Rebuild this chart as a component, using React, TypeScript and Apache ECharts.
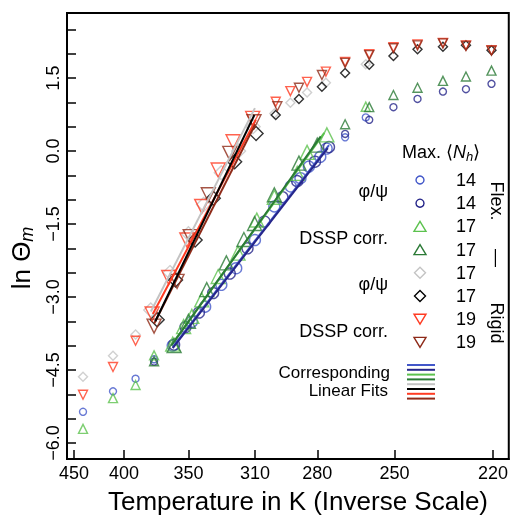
import React, { useEffect, useRef } from "react";
import * as echarts from "echarts";

// ---------- data (temperature in K, ln Θm) ----------
const tempTicks = [450, 400, 350, 310, 280, 250, 220];
const yLabelTicks = [-6, -4.5, -3, -1.5, 0, 1.5];
const yTicks = [-6, -5.5, -5, -4.5, -4, -3.5, -3, -2.5, -2, -1.5, -1, -0.5, 0, 0.5, 1, 1.5, 2, 2.5];

// φ/ψ, Nh 14 (blue circles)
const phiPsi14Small = [[440, -5.36], [410, -4.94], [390, -4.68], [375, -4.28], [268.4, 0.28], [260.4, 0.69]];
const phiPsi14Fit = [[361, -4.0], [347.7, -3.51], [339, -3.2], [329, -2.75], [320.3, -2.41], [310, -1.83], [300, -1.14], [292, -0.73], [287.5, -0.56], [283.7, -0.32], [278.7, -0.12], [276, 0.05]];
// DSSP corr., Nh 14 (navy circles)
const dssp14Small = [[375, -4.33], [268.4, 0.35], [259.1, 0.64], [250.4, 0.9], [242.3, 1.07], [234.3, 1.22], [227.5, 1.27], [220.4, 1.38]];
const dssp14Fit = [[360, -3.98], [352, -3.62], [343, -3.32], [334, -2.92], [324, -2.52], [314, -2.0], [305, -1.45], [296, -0.95], [289, -0.62], [281, -0.22], [275, 0.08]];
// φ/ψ, Nh 17 flex (light green triangles)
const phiPsi17fSmall = [[440, -5.71], [410, -5.08], [390, -4.81], [375, -4.2], [260.4, 0.91]];
const phiPsi17fFit = [[361, -3.97], [353.3, -3.61], [347.7, -3.4], [341.2, -3.06], [330.9, -2.58], [319.3, -2.1], [309, -1.42], [300, -0.95], [289, -0.46], [284.5, -0.03], [275.9, 0.33]];
// DSSP corr., Nh 17 flex (dark green triangles)
const dssp17fSmall = [[375, -4.32], [268.4, 0.55], [259.1, 0.9], [250.4, 1.15], [242.3, 1.3], [234.3, 1.44], [227.5, 1.53], [220.4, 1.65]];
const dssp17fFit = [[360, -4.0], [350, -3.5], [338, -2.85], [326, -2.3], [316, -1.82], [310.2, -1.49], [300, -0.9], [288.2, -0.25], [280, 0.12]];
// φ/ψ, Nh 17 rigid (gray diamonds)
const phiPsi17rSmall = [[440, -4.64], [410, -4.21], [390, -3.77], [300, 0.77], [292.2, 0.99], [284.5, 1.2], [276.3, 1.4], [260.4, 1.78]];
const phiPsi17rFit = [[377.6, -3.27], [363, -2.5], [350, -1.7], [340, -1.1], [329, -0.45], [319, 0.0], [311, 0.5]];
// DSSP corr., Nh 17 rigid (black diamonds)
const dssp17rSmall = [[299.3, 0.74], [288.2, 1.07], [278, 1.32], [268.4, 1.6], [259.1, 1.77], [250.4, 1.95], [242.3, 2.09], [234.3, 2.14], [227.5, 2.17], [220.4, 2.07]];
const dssp17rFit = [[372.6, -3.47], [359, -2.65], [345.5, -1.83], [333.9, -0.97], [321.2, -0.22], [309.4, 0.36]];
// φ/ψ, Nh 19 (red down-triangles)
const phiPsi19Small = [[440, -5.01], [410, -4.44], [390, -3.9], [299.3, 1.01], [292.2, 1.23], [284.5, 1.42], [276.3, 1.63], [268.4, 1.83], [259.1, 1.99], [250.4, 2.13], [242.3, 2.19], [234.3, 2.22], [227.5, 2.17], [220.4, 2.07]];
const phiPsi19Fit = [[376.5, -3.35], [363.9, -2.6], [351.1, -1.83], [341.2, -1.14], [330.9, -0.39], [322.1, 0.19], [311.2, 0.67]];
// DSSP corr., Nh 19 (dark red down-triangles)
const dssp19Small = [[298.5, 0.92], [288.2, 1.3], [278, 1.56], [268.4, 1.81], [259.1, 1.97], [250.4, 2.11], [242.3, 2.17], [234.3, 2.21], [227.5, 2.16], [220.4, 2.06]];
const dssp19Fit = [[375, -3.6], [357.9, -2.68], [348.8, -1.76], [337, -0.9], [324, -0.05], [310.5, 0.6]];

// linear fits: [T1, y1, T2, y2]
const fitBlue = [361, -4.03, 275, 0.12];
const fitNavy = [361, -4.05, 275.5, 0.06];
const fitLightGreen = [362, -3.99, 277, 0.37];
const fitDarkGreen = [362, -4.0, 278.5, 0.3];
const fitGray = [377.5, -3.3, 310, 0.88];
const fitBlack = [374, -3.5, 310.3, 0.74];
const fitRed = [376, -3.35, 309.5, 0.64];
const fitDarkRed = [375, -3.55, 309.8, 0.55];

const legendNh = ["14", "14", "17", "17", "17", "17", "19", "19"];

// ---------- styles ----------
const C = {
  blue: "#4257c9",
  navy: "#26268a",
  lgreen: "#5cc24e",
  dgreen: "#2b7a36",
  gray: "#c4c4c4",
  black: "#000000",
  red: "#ff3b22",
  dred: "#8e2a18",
};
const FONT = "'Liberation Sans', Arial, Helvetica, sans-serif";

const toX = (T: number) => 1000 / T;

export default function App() {
  const ref = useRef<HTMLDivElement>(null);
  useEffect(() => {
    if (!ref.current) return;
    const chart = echarts.init(ref.current, null, { renderer: "svg" });

    const scatter = (pts: number[][], symbol: string, size: number, color: string, rotate = 0, z = 2) => ({
      type: "scatter",
      data: pts.map((p) => [toX(p[0]), p[1]]),
      symbol,
      symbolSize: size,
      symbolRotate: rotate,
      z,
      itemStyle: { color: "rgba(0,0,0,0)", borderColor: color, borderWidth: 1.4 },
      silent: true,
    });
    const fitLine = (f: number[], color: string) => ({
      type: "line",
      data: [[toX(f[0]), f[1]], [toX(f[2]), f[3]]],
      symbol: "none",
      z: 5,
      lineStyle: { color, width: 2 },
      silent: true,
    });

    const series: any[] = [
      scatter(phiPsi14Small, "circle", 7, C.blue),
      scatter(phiPsi14Fit, "circle", 11, C.blue),
      scatter(dssp14Small, "circle", 7, C.navy),
      scatter(dssp14Fit, "circle", 11, C.navy),
      scatter(phiPsi17fSmall, "triangle", 9, C.lgreen),
      scatter(phiPsi17fFit, "triangle", 14, C.lgreen),
      scatter(dssp17fSmall, "triangle", 9, C.dgreen),
      scatter(dssp17fFit, "triangle", 14, C.dgreen),
      scatter(phiPsi17rSmall, "diamond", 9, C.gray),
      scatter(phiPsi17rFit, "diamond", 14, C.gray),
      scatter(dssp17rSmall, "diamond", 9, C.black),
      scatter(dssp17rFit, "diamond", 14, C.black),
      scatter(phiPsi19Small, "triangle", 9, C.red, 180),
      scatter(phiPsi19Fit, "triangle", 14, C.red, 180),
      scatter(dssp19Small, "triangle", 9, C.dred, 180),
      scatter(dssp19Fit, "triangle", 14, C.dred, 180),
      fitLine(fitGray, C.gray),
      fitLine(fitRed, C.red),
      fitLine(fitDarkRed, C.dred),
      fitLine(fitBlack, C.black),
      fitLine(fitLightGreen, C.lgreen),
      fitLine(fitDarkGreen, C.dgreen),
      fitLine(fitBlue, C.blue),
      fitLine(fitNavy, C.navy),
    ];

    // legend graphics
    const legendColors = [C.blue, C.navy, C.lgreen, C.dgreen, C.gray, C.black, C.red, C.dred];
    const g: any[] = [];
    const symX = 420;
    const rowY = (i: number) => 180 + i * 23.2;
    legendColors.forEach((col, i) => {
      const y = rowY(i);
      const style = { fill: "none", stroke: col, lineWidth: 1.4 };
      if (i < 2) g.push({ type: "circle", shape: { cx: symX, cy: y, r: 4 }, style });
      else if (i < 4)
        g.push({ type: "polygon", shape: { points: [[symX, y - 5], [symX + 6, y + 5], [symX - 6, y + 5]] }, style });
      else if (i < 6)
        g.push({ type: "polygon", shape: { points: [[symX, y - 5.5], [symX + 5.5, y], [symX, y + 5.5], [symX - 5.5, y]] }, style });
      else
        g.push({ type: "polygon", shape: { points: [[symX - 6, y - 5], [symX + 6, y - 5], [symX, y + 5]] }, style });
      g.push({
        type: "text",
        x: 466,
        y,
        style: { text: legendNh[i], font: `18px ${FONT}`, fill: "#000", align: "center", verticalAlign: "middle" },
      });
    });
    const sideLabels = [
      ["φ/ψ", 191],
      ["DSSP corr.", 238],
      ["φ/ψ", 284],
      ["DSSP corr.", 331],
    ];
    sideLabels.forEach(([t, y]) =>
      g.push({
        type: "text",
        x: 388,
        y: y as number,
        style: { text: t as string, font: `18px ${FONT}`, fill: "#000", align: "right", verticalAlign: "middle" },
      })
    );
    g.push({
      type: "text",
      x: 441,
      y: 152,
      style: {
        text: "{a|Max. ⟨}{i|N}{s|h}{a|⟩}",
        fill: "#000",
        align: "center",
        verticalAlign: "middle",
        rich: {
          a: { fontFamily: FONT, fontSize: 18, fill: "#000" },
          i: { fontFamily: FONT, fontSize: 18, fontStyle: "italic", fill: "#000" },
          s: { fontFamily: FONT, fontSize: 13, fontStyle: "italic", fill: "#000", padding: [8, 0, 0, 0] },
        },
      },
    });
    [["Flex.", 201], ["—", 258], ["Rigid", 323]].forEach(([t, y]) =>
      g.push({
        type: "text",
        x: 497,
        y: y as number,
        rotation: -Math.PI / 2,
        style: { text: t as string, font: `18px ${FONT}`, fill: "#000", align: "center", verticalAlign: "middle" },
      })
    );
    g.push({
      type: "text",
      x: 390,
      y: 372,
      style: { text: "Corresponding", font: `17px ${FONT}`, lineHeight: 17, fill: "#000", align: "right", verticalAlign: "middle" },
    });
    g.push({
      type: "text",
      x: 388,
      y: 390,
      style: { text: "Linear Fits", font: `17px ${FONT}`, lineHeight: 17, fill: "#000", align: "right", verticalAlign: "middle" },
    });
    legendColors.forEach((col, i) => {
      const y = 365 + i * 4.8;
      g.push({ type: "line", shape: { x1: 407, y1: y, x2: 435, y2: y }, style: { stroke: col, lineWidth: 2 } });
    });
    // axis titles
    g.push({
      type: "text",
      x: 298,
      y: 501,
      style: {
        text: "Temperature in K (Inverse Scale)",
        font: `26px ${FONT}`,
        fill: "#000",
        align: "center",
        verticalAlign: "middle",
      },
    });
    g.push({
      type: "text",
      x: 21,
      y: 258,
      rotation: Math.PI / 2,
      style: {
        text: "{a|ln Θ}{s|m}",
        align: "center",
        verticalAlign: "middle",
        rich: {
          a: { fontFamily: FONT, fontSize: 26, fill: "#000" },
          s: { fontFamily: FONT, fontSize: 18, fontStyle: "italic", fill: "#000", padding: [12, 0, 0, 0] },
        },
      },
    });

    chart.setOption({
      animation: false,
      grid: { left: 67, top: 13, right: -3, bottom: 56, show: true, borderColor: "#000", borderWidth: 2 },
      xAxis: {
        type: "value",
        min: 2.184,
        max: 4.633,
        splitLine: { show: false },
        axisLine: { onZero: false, lineStyle: { color: "#000", width: 2 } },
        axisTick: {
          inside: true,
          length: 9,
          lineStyle: { color: "#000", width: 1.5 },
          customValues: tempTicks.map(toX),
        },
        axisLabel: {
          customValues: tempTicks.map(toX),
          formatter: (v: number) => String(Math.round(1000 / v)),
          color: "#000",
          fontSize: 18,
          fontFamily: FONT,
          margin: 5,
        },
      },
      yAxis: {
        type: "value",
        min: -6.33,
        max: 2.835,
        splitLine: { show: false },
        axisLine: { onZero: false, lineStyle: { color: "#000", width: 2 } },
        axisTick: {
          inside: true,
          length: 9,
          lineStyle: { color: "#000", width: 1.5 },
          customValues: yTicks,
        },
        axisLabel: {
          customValues: yLabelTicks,
          formatter: (v: number) => v.toFixed(1).replace("-", "\u2212"),
          rotate: 90,
          color: "#000",
          fontSize: 18,
          fontFamily: FONT,
          margin: 5,
        },
      },
      graphic: g,
      series,
    });
    return () => chart.dispose();
  }, []);
  return <div ref={ref} style={{ position: "fixed", left: 0, top: 0, width: 511, height: 515 }} />;
}
